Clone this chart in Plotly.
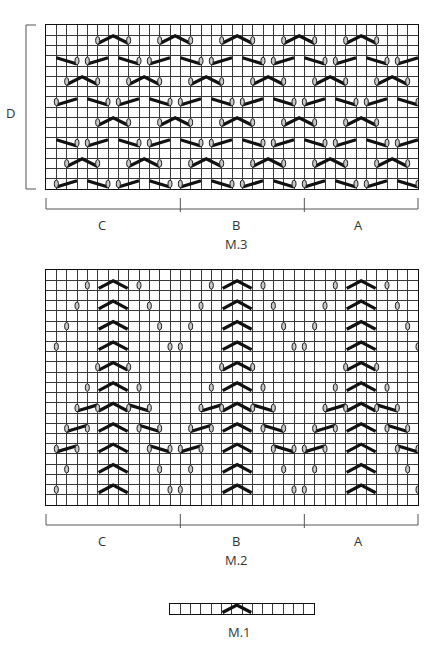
import plotly.graph_objects as go

W, H = 440, 650

# ---------------- data ----------------
# M.3: 36 columns x 16 rows; symbol rows counted from top
M3_COLS, M3_ROWS = 36, 16
M3_SYMBOL_ROWS = [1, 3, 5, 7, 9, 11, 13, 15]
M3_ROW_TYPES = ["A", "B", "C", "D", "A", "B", "C", "D"]
M3_CHEVRON_A = [(5, 8), (11, 14), (17, 20), (23, 26), (29, 32)]
M3_CHEVRON_C = [(2, 5), (8, 11), (14, 17), (20, 23), (26, 29), (32, 35)]
M3_PAIR_B = [3, 9, 15, 21, 27, 33]
M3_PAIR_D = [0, 6, 12, 18, 24, 30, 36]
M3_SECTIONS = [0, 13, 25, 36]
M3_SECTION_LABELS = ["C", "B", "A"]

# M.2: 36 columns x 23 rows
M2_COLS, M2_ROWS = 36, 23
M2_SYMBOL_ROWS = [1, 3, 5, 7, 9, 11, 13, 15, 17, 19, 21]
M2_CENTERS = [6.5, 18.5, 30.5]
M2_OVAL_OFFSETS = [[2.5], [3.5], [4.5], [5.5], [1.5], [2.5],
                   [1.5, 3.5], [2.5, 4.5], [3.5, 5.5], [4.5], [5.5]]
M2_SLANTS = [None, None, None, None, None, None,
             (1.5, 3.5), (2.5, 4.5), (3.5, 5.5), None, None]
M2_SECTIONS = [0, 13, 25, 36]
M2_SECTION_LABELS = ["C", "B", "A"]

# M.1: 14 columns x 1 row
M1_COLS = 14
M1_CHEVRON = (5, 8)

TITLES = ["M.3", "M.2", "M.1"]

# ---------------- layout helpers ----------------
def px(x):
    return x / W

def py(y):
    return 1 - y / H

fig = go.Figure()
shapes = []
annotations = []

GRID = "#3a3a3a"
OVAL_FILL = "#c8c8c8"
FONT = dict(size=13, color="#333", family="Open Sans")
LABEL_X = [102, 236, 358]

def text(x, y, s):
    annotations.append(dict(x=px(x), y=py(y), xref="paper", yref="paper", text=s,
                            showarrow=False, xanchor="center", yanchor="middle", font=FONT))

def setup_axes(idx, x0, x1, y0, y1, ncols, nrows):
    sfx = "" if idx == 1 else str(idx)
    common = dict(showticklabels=False, ticks="", zeroline=False, showgrid=True,
                  gridcolor=GRID, gridwidth=1, dtick=1, tick0=0, showline=True,
                  mirror=True, linecolor="#111", linewidth=1, fixedrange=True)
    fig.layout["xaxis" + sfx] = dict(domain=[px(x0), px(x1)], range=[0, ncols],
                                     anchor="y" + sfx, **common)
    fig.layout["yaxis" + sfx] = dict(domain=[py(y1), py(y0)], range=[0, nrows],
                                     anchor="x" + sfx, **common)
    return "x" + sfx, "y" + sfx

def oval(xr, yr, x, y):
    shapes.append(dict(type="circle", xref=xr, yref=yr, x0=x - 0.2, x1=x + 0.2,
                       y0=y - 0.37, y1=y + 0.37, fillcolor=OVAL_FILL,
                       line=dict(color="#222", width=1), layer="above"))

def add_lines(segs, xr, yr):
    xs, ys = [], []
    for seg in segs:
        for (a, b) in seg:
            xs.append(a)
            ys.append(b)
        xs.append(None)
        ys.append(None)
    fig.add_trace(go.Scatter(x=xs, y=ys, mode="lines", xaxis=xr, yaxis=yr,
                             line=dict(color="#111", width=3.2), hoverinfo="skip",
                             showlegend=False))

def chevron(a, b, yc, inset=0.0):
    m = (a + b) / 2
    return [(a + inset, yc - 0.3), (m, yc + 0.45), (b - inset, yc - 0.3)]

def bracket(x0p, x1p, ticks, ytop, labels, title):
    col = "#555"
    shapes.append(dict(type="line", xref="paper", yref="paper", x0=px(x0p), x1=px(x1p),
                       y0=py(ytop + 11), y1=py(ytop + 11), line=dict(color=col, width=1)))
    for i, t in enumerate(ticks):
        extra = 3 if 0 < i < len(ticks) - 1 else 0
        shapes.append(dict(type="line", xref="paper", yref="paper", x0=px(t), x1=px(t),
                           y0=py(ytop), y1=py(ytop + 11 + extra), line=dict(color=col, width=1)))
    for i, lab in enumerate(labels):
        text(LABEL_X[i], ytop + 27, lab)
    text(236, ytop + 46, title)

# ---------------- M.3 ----------------
X0, X1 = 46, 418
xr, yr = setup_axes(1, X0, X1, 25, 189, M3_COLS, M3_ROWS)
segs = []
for r, t in zip(M3_SYMBOL_ROWS, M3_ROW_TYPES):
    yc = M3_ROWS - r - 0.5
    if t in ("A", "C"):
        for a, b in (M3_CHEVRON_A if t == "A" else M3_CHEVRON_C):
            segs.append(chevron(a, b, yc))
            oval(xr, yr, a, yc)
            oval(xr, yr, b, yc)
    else:
        for a in (M3_PAIR_B if t == "B" else M3_PAIR_D):
            if a - 2 >= 0:
                segs.append([(a - 2, yc + 0.3), (a, yc - 0.3)])
            if a + 3 <= M3_COLS:
                segs.append([(a + 1, yc - 0.3), (a + 3, yc + 0.3)])
            for o in (a, a + 1):
                if 0 < o <= M3_COLS:
                    oval(xr, yr, o, yc)
add_lines(segs, xr, yr)
cw = (X1 - X0) / M3_COLS
bracket(X0, X1, [X0 + s * cw for s in M3_SECTIONS], 198, M3_SECTION_LABELS, TITLES[0])
# D bracket
shapes.append(dict(type="line", xref="paper", yref="paper", x0=px(26), x1=px(26),
                   y0=py(25), y1=py(189), line=dict(color="#555", width=1)))
for yy in (25, 189):
    shapes.append(dict(type="line", xref="paper", yref="paper", x0=px(26), x1=px(36),
                       y0=py(yy), y1=py(yy), line=dict(color="#555", width=1)))
text(10, 113, "D")

# ---------------- M.2 ----------------
xr, yr = setup_axes(2, X0, X1, 270, 505, M2_COLS, M2_ROWS)
segs = []
for k, r in enumerate(M2_SYMBOL_ROWS):
    yc = M2_ROWS - r - 0.5
    for c in M2_CENTERS:
        segs.append(chevron(c - 1.5, c + 1.5, yc, inset=0.1))
        for off in M2_OVAL_OFFSETS[k]:
            oval(xr, yr, c - off, yc)
            oval(xr, yr, c + off, yc)
        sl = M2_SLANTS[k]
        if sl:
            inner, outer = sl
            segs.append([(c - outer, yc - 0.3), (c - inner, yc + 0.3)])
            segs.append([(c + inner, yc + 0.3), (c + outer, yc - 0.3)])
add_lines(segs, xr, yr)
bracket(X0, X1, [X0 + s * cw for s in M2_SECTIONS], 514, M2_SECTION_LABELS, TITLES[1])

# ---------------- M.1 ----------------
xr, yr = setup_axes(3, 170, 314, 604, 614, M1_COLS, 1)
add_lines([chevron(M1_CHEVRON[0], M1_CHEVRON[1], 0.45, inset=0.1)], xr, yr)
text(240, 632, TITLES[2])

fig.update_layout(width=W, height=H, margin=dict(l=0, r=0, t=0, b=0),
                  plot_bgcolor="white", paper_bgcolor="white",
                  shapes=shapes, annotations=annotations, showlegend=False)
fig.write_html("out.html", config={"displayModeBar": False},
               post_script="document.body.style.margin='0';")
